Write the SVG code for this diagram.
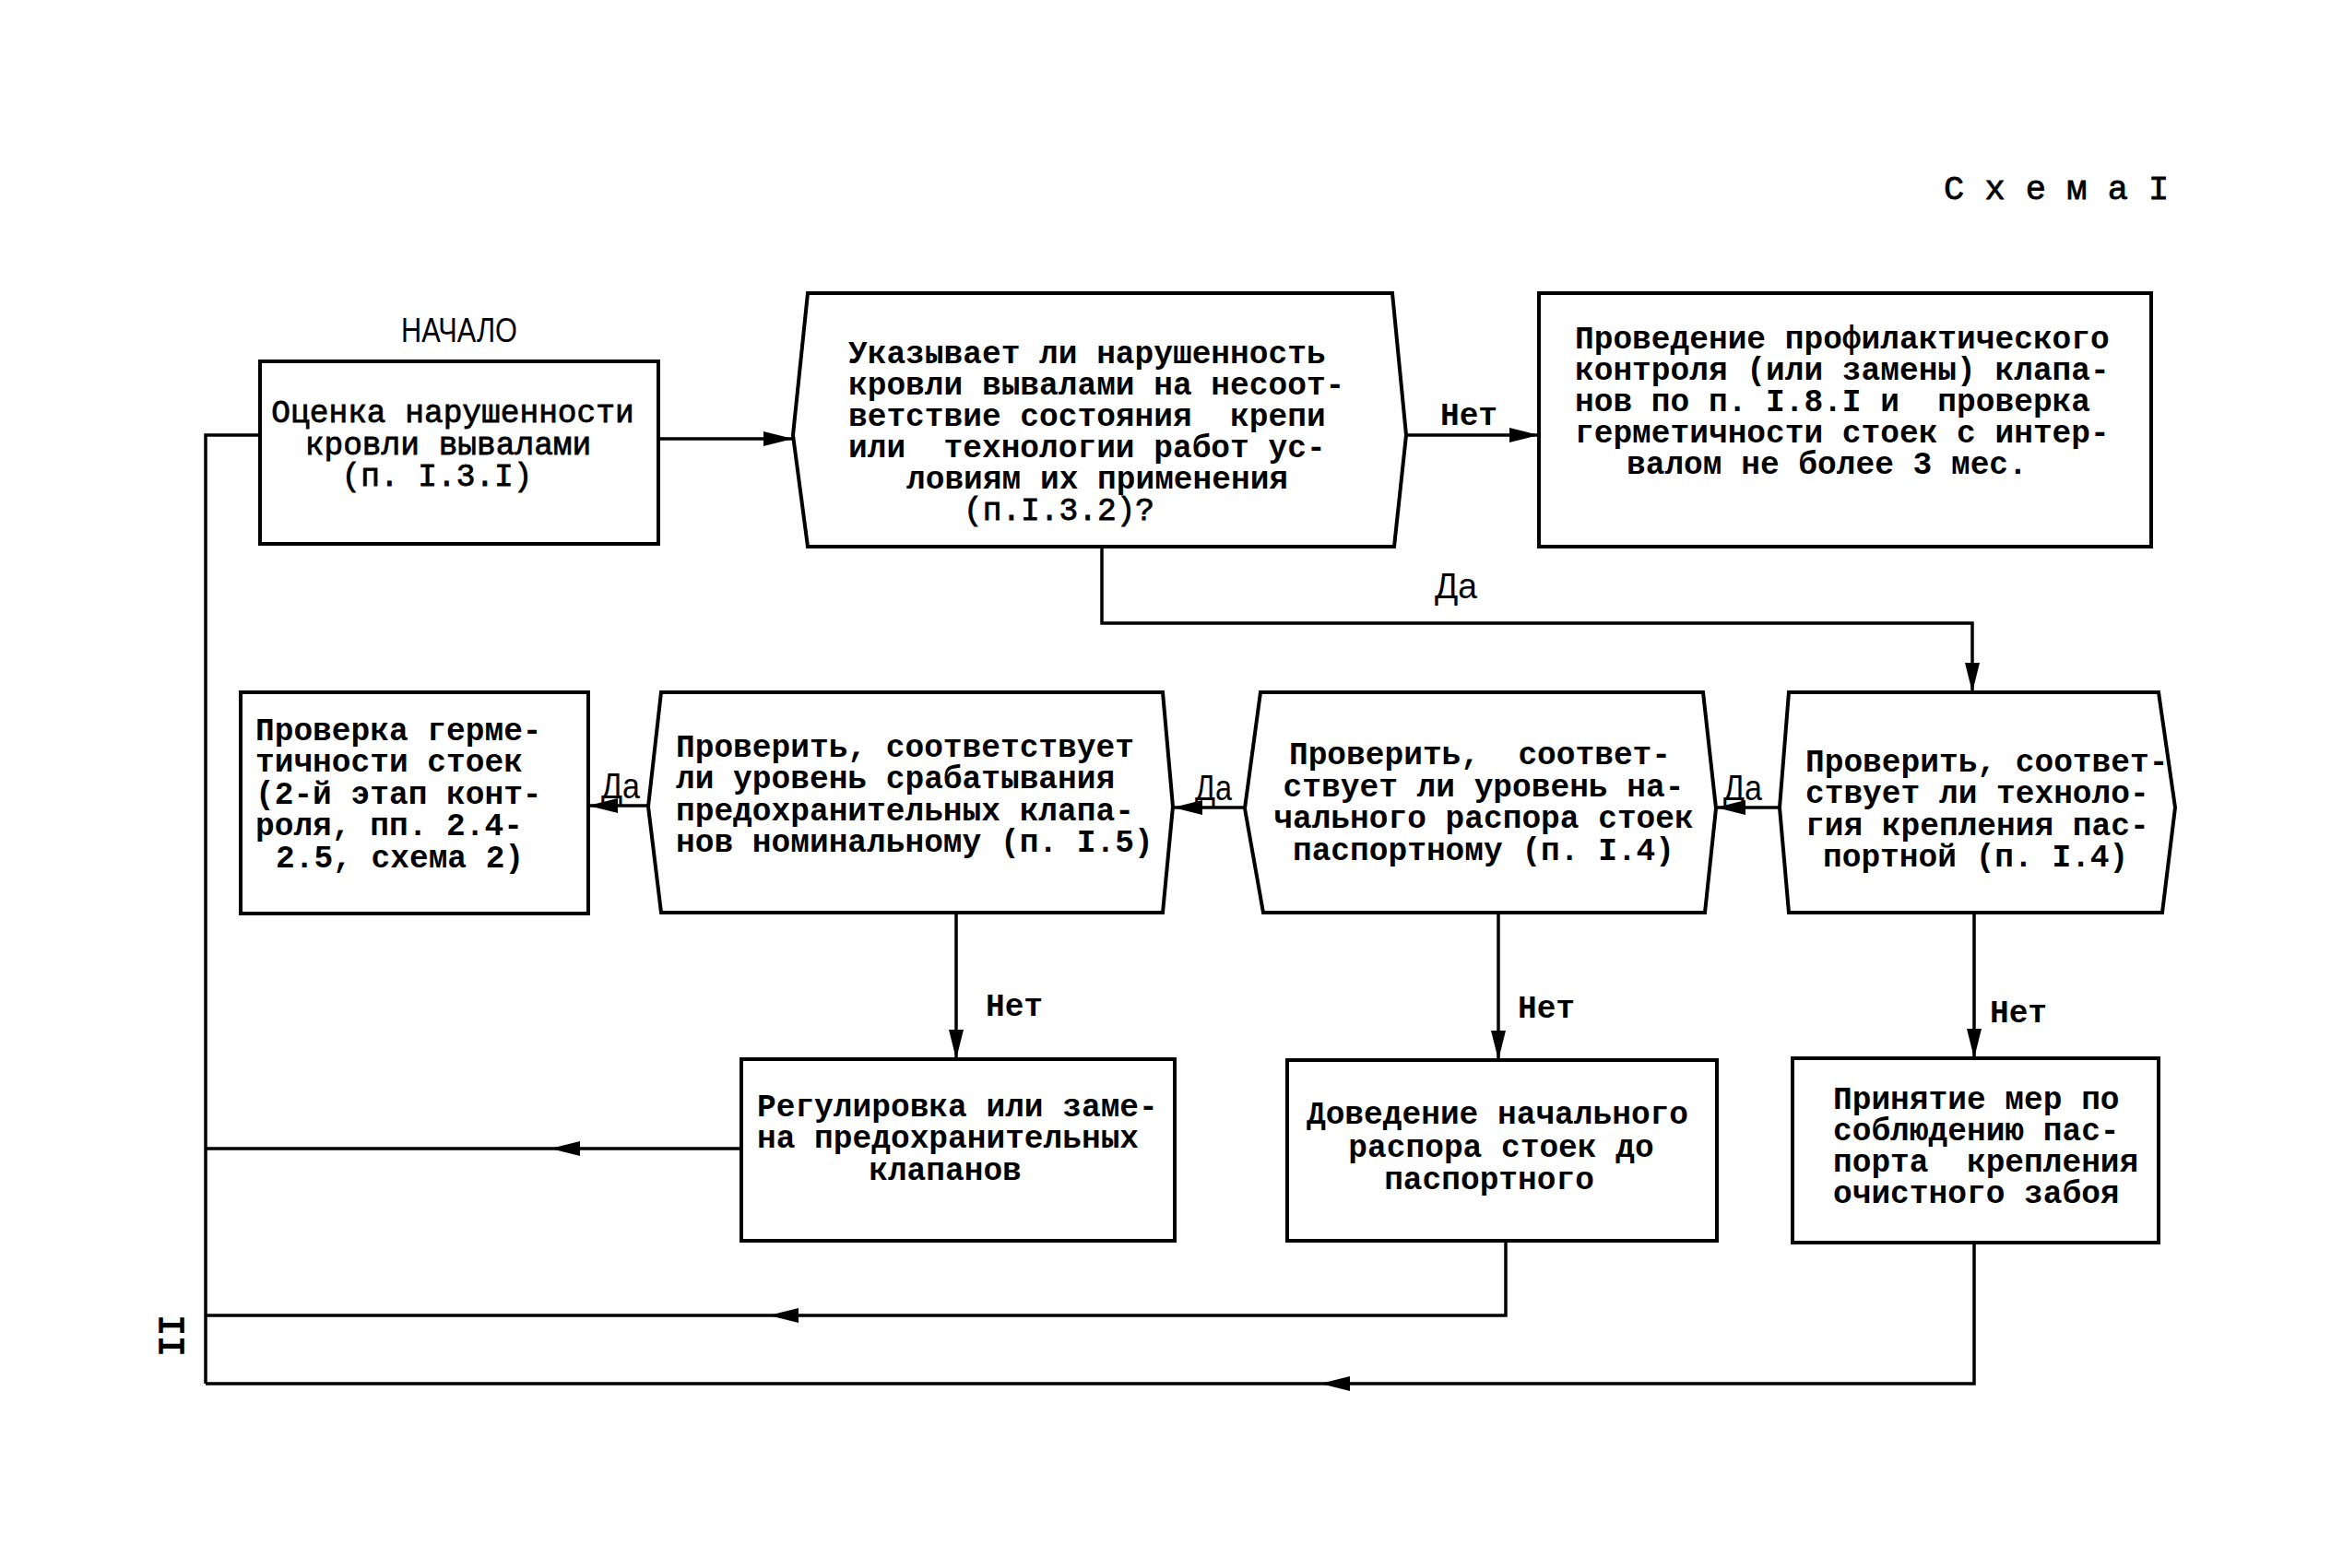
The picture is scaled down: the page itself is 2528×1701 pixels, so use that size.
<svg xmlns="http://www.w3.org/2000/svg" width="2528" height="1701" viewBox="0 0 2528 1701">
<style>
.bg{fill:#fff}
.node{fill:#fff;stroke:#000;stroke-width:4;stroke-linejoin:miter}
.conn{fill:none;stroke:#000;stroke-width:3.5}
.t{font-family:"Liberation Mono","DejaVu Sans Mono",monospace;font-size:34.5px;font-weight:bold;fill:#000;white-space:pre}
.tl{font-family:"Liberation Mono","DejaVu Sans Mono",monospace;font-size:34.5px;font-weight:normal;fill:#000;stroke:#000;stroke-width:0.8;white-space:pre}
.c{text-anchor:middle}
.lbl{font-family:"Liberation Sans","Arial",sans-serif;font-size:38px;fill:#000}
</style>
<defs>
<marker id="ah" markerUnits="userSpaceOnUse" markerWidth="34" markerHeight="18" refX="32" refY="8" orient="auto">
<path d="M0,0 L32,8 L0,16 z" fill="#000"/>
</marker>
</defs>
<rect class="bg" x="0" y="0" width="2528" height="1701"/>

<text class="tl" x="2108" y="216" style="font-size:37px">С х е м а I</text>
<text class="lbl" x="435" y="371" textLength="126" lengthAdjust="spacingAndGlyphs" style="font-size:36px">НАЧАЛО</text>
<text class="tl" x="188" y="1449" transform="rotate(-90 188 1449)" text-anchor="middle" dominant-baseline="central" style="font-size:38px;stroke-width:1.5">II</text>

<g id="connectors">
<path class="conn" d="M282,472 H223 V1501"/>
<path class="conn" d="M714,476 H860" marker-end="url(#ah)"/>
<path class="conn" d="M1525,472 H1669" marker-end="url(#ah)"/>
<path class="conn" d="M1195,593 V676 H2139 V751" marker-end="url(#ah)"/>
<path class="conn" d="M1930,876 H1861" marker-end="url(#ah)"/>
<path class="conn" d="M1350,876 H1272" marker-end="url(#ah)"/>
<path class="conn" d="M703,874 H638" marker-end="url(#ah)"/>
<path class="conn" d="M1037,990 V1149" marker-end="url(#ah)"/>
<path class="conn" d="M1625,990 V1150" marker-end="url(#ah)"/>
<path class="conn" d="M2141,990 V1148" marker-end="url(#ah)"/>
<path class="conn" d="M804,1246 H597" marker-end="url(#ah)"/>
<path class="conn" d="M597,1246 H223"/>
<path class="conn" d="M1633,1346 V1427 H834" marker-end="url(#ah)"/>
<path class="conn" d="M834,1427 H223"/>
<path class="conn" d="M2141,1348 V1501 H1432" marker-end="url(#ah)"/>
<path class="conn" d="M1432,1501 H223"/>
<text class="t c" x="1593" y="461">Нет</text>
<text class="lbl" x="1556" y="649" textLength="46" lengthAdjust="spacingAndGlyphs">Да</text>
<text class="lbl" x="1869" y="868" textLength="42" lengthAdjust="spacingAndGlyphs">Да</text>
<text class="lbl" x="1296" y="868" textLength="40" lengthAdjust="spacingAndGlyphs">Да</text>
<text class="lbl" x="652" y="866" textLength="42" lengthAdjust="spacingAndGlyphs">Да</text>
<text class="t c" x="1100" y="1102">Нет</text>
<text class="t c" x="1677" y="1104">Нет</text>
<text class="t c" x="2189" y="1109">Нет</text>
</g>

<g id="n-start">
<rect class="node" x="282" y="392" width="432" height="198"/>
<text class="tl c" x="491" y="458">Оценка нарушенности</text>
<text class="tl c" x="486" y="493">кровли вывалами</text>
<text class="tl c" x="474" y="527">(п. I.3.I)</text>
</g>

<g id="n-decision1">
<polygon class="node" points="876,318 1510,318 1525,472 1512,593 876,593 860,472"/>
<text class="t" x="920" y="394">Указывает ли нарушенность</text>
<text class="t" x="920" y="428">кровли вывалами на несоот-</text>
<text class="t" x="920" y="462">ветствие состояния  крепи</text>
<text class="t" x="920" y="496">или  технологии работ ус-</text>
<text class="t" x="983" y="530">ловиям их применения</text>
<text class="tl" x="1045" y="564">(п.I.3.2)?</text>
</g>

<g id="n-prophylaxis">
<rect class="node" x="1669" y="318" width="664" height="275"/>
<text class="t" x="1708" y="378">Проведение профилактического</text>
<text class="t" x="1708" y="412">контроля (или замены) клапа-</text>
<text class="t" x="1708" y="446">нов по п. I.8.I и  проверка</text>
<text class="t" x="1708" y="480">герметичности стоек с интер-</text>
<text class="t" x="1764" y="514">валом не более 3 мес.</text>
</g>

<g id="n-hermetic">
<rect class="node" x="261" y="751" width="377" height="240"/>
<text class="t" x="277" y="803">Проверка герме-</text>
<text class="t" x="277" y="837">тичности стоек</text>
<text class="t" x="277" y="872">(2-й этап конт-</text>
<text class="t" x="277" y="906">роля, пп. 2.4-</text>
<text class="t" x="299" y="941">2.5, схема 2)</text>
</g>

<g id="n-valves-check">
<polygon class="node" points="717,751 1261,751 1272,875 1261,990 717,990 703,875"/>
<text class="t" x="733" y="821">Проверить, соответствует</text>
<text class="t" x="733" y="855">ли уровень срабатывания</text>
<text class="t" x="733" y="890">предохранительных клапа-</text>
<text class="t" x="733" y="924">нов номинальному (п. I.5)</text>
</g>

<g id="n-spread-check">
<polygon class="node" points="1367,751 1847,751 1861,877 1849,990 1370,990 1350,877"/>
<text class="t c" x="1605" y="829">Проверить,  соответ-</text>
<text class="t c" x="1609" y="864">ствует ли уровень на-</text>
<text class="t c" x="1609" y="898">чального распора стоек</text>
<text class="t c" x="1609" y="933">паспортному (п. I.4)</text>
</g>

<g id="n-tech-check">
<polygon class="node" points="1940,751 2341,751 2359,876 2345,990 1940,990 1930,876"/>
<text class="t" x="1958" y="837">Проверить, соответ-</text>
<text class="t" x="1958" y="871">ствует ли техноло-</text>
<text class="t" x="1958" y="906">гия крепления пас-</text>
<text class="t" x="1977" y="940">портной (п. I.4)</text>
</g>

<g id="n-valves-fix">
<rect class="node" x="804" y="1149" width="470" height="197"/>
<text class="t" x="821" y="1211">Регулировка или заме-</text>
<text class="t" x="821" y="1245">на предохранительных</text>
<text class="t c" x="1025" y="1280">клапанов</text>
</g>

<g id="n-spread-fix">
<rect class="node" x="1396" y="1150" width="466" height="196"/>
<text class="t c" x="1624" y="1219">Доведение начального</text>
<text class="t c" x="1628" y="1255">распора стоек до</text>
<text class="t c" x="1615" y="1290">паспортного</text>
</g>

<g id="n-passport">
<rect class="node" x="1944" y="1148" width="397" height="200"/>
<text class="t" x="1988" y="1203">Принятие мер по</text>
<text class="t" x="1988" y="1237">соблюдению пас-</text>
<text class="t" x="1988" y="1271">порта  крепления</text>
<text class="t" x="1988" y="1305">очистного забоя</text>
</g>
</svg>
